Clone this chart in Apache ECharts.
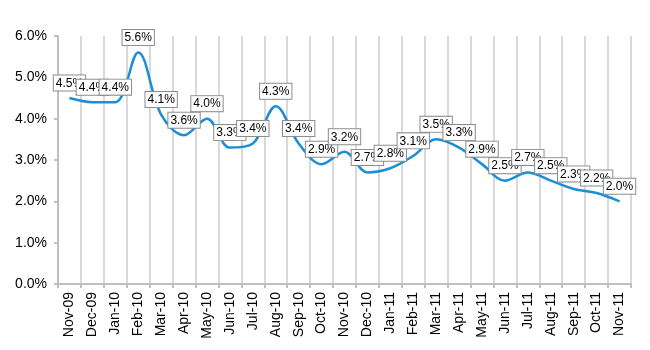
<!DOCTYPE html>
<html>
<head>
<meta charset="utf-8">
<script src="https://cdn.jsdelivr.net/npm/echarts@6/dist/echarts.min.js"></script>
<style>
  html, body { margin: 0; padding: 0; background: #fff; }
  #chart { width: 650px; height: 350px; }
</style>
</head>
<body>
<div id="chart"></div>
<script>
const months = ['Nov-09','Dec-09','Jan-10','Feb-10','Mar-10','Apr-10','May-10','Jun-10','Jul-10',
  'Aug-10','Sep-10','Oct-10','Nov-10','Dec-10','Jan-11','Feb-11','Mar-11','Apr-11','May-11',
  'Jun-11','Jul-11','Aug-11','Sep-11','Oct-11','Nov-11']
const rates = [4.5,4.4,4.4,5.6,4.1,3.6,4.0,3.3,3.4,4.3,3.4,2.9,3.2,2.7,2.8,3.1,3.5,3.3,2.9,2.5,2.7,2.5,2.3,2.2,2.0]

const chart = echarts.init(document.getElementById('chart'))
chart.setOption({
  animation: false,
  textStyle: { fontFamily: 'Liberation Sans, Arial, sans-serif' },
  grid: { left: 58, right: 19, top: 36, bottom: 66 },
  xAxis: {
    type: 'category',
    data: months,
    boundaryGap: true,
    axisLine: { lineStyle: { color: '#bfbfbf', width: 2 } },
    axisTick: { show: true, length: 4, lineStyle: { color: '#bfbfbf', width: 2 } },
    axisLabel: { rotate: 90, color: '#000', fontSize: 14, margin: 8 },
    splitLine: { show: true, lineStyle: { color: '#d9d9d9', width: 2 } }
  },
  yAxis: {
    type: 'value',
    min: 0, max: 6, interval: 1,
    axisLine: { show: true, lineStyle: { color: '#bfbfbf', width: 2 } },
    axisTick: { show: true, length: 4, lineStyle: { color: '#bfbfbf', width: 2 } },
    axisLabel: { color: '#000', fontSize: 14, margin: 11, formatter: v => v.toFixed(1) + '%' },
    splitLine: { show: false }
  },
  series: [{
    type: 'line',
    data: rates,
    smooth: 0.35,
    symbol: 'circle',
    symbolSize: 1,
    showSymbol: true,
    itemStyle: { color: 'rgba(0,0,0,0)' },
    lineStyle: { color: '#1a8fd8', width: 2.5 },
    label: {
      show: true,
      position: 'top',
      distance: 7,
      formatter: p => p.value.toFixed(1) + '%',
      color: '#000',
      fontSize: 12,
      backgroundColor: '#fff',
      borderColor: '#8c8c8c',
      borderWidth: 1,
      padding: [2, 2, 1, 2]
    },
    labelLayout: { hideOverlap: false }
  }]
})
</script>
</body>
</html>
